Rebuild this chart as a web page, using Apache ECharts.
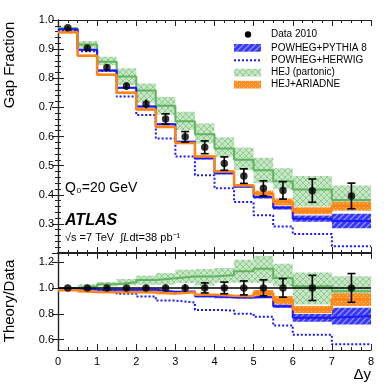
<!DOCTYPE html>
<html><head><meta charset="utf-8">
<script src="https://cdn.jsdelivr.net/npm/echarts@6/dist/echarts.min.js"></script>
<style>html,body{margin:0;padding:0;background:#fff}#c{width:390px;height:390px}</style>
</head><body><div id="c"></div>
<script>
// ---------- data ----------
const binEdges   = [0,0.5,1,1.5,2,2.5,3,3.5,4,4.5,5,5.5,6,7,8];
const binCenters = [0.25,0.75,1.25,1.75,2.25,2.75,3.25,3.75,4.25,4.75,5.25,5.75,6.5,7.5];
const xTicks = [0,1,2,3,4,5,6,7,8];
const yTicksTop = [0.3,0.4,0.5,0.6,0.7,0.8,0.9,1.0];
const yTicksRatio = [0.6,0.8,1.0,1.2];

// Gap fraction (upper panel)
const gapData    = [0.973,0.904,0.837,0.773,0.712,0.660,0.599,0.563,0.507,0.464,0.422,0.415,0.414,0.396];
const gapDataErr = [0.006,0.008,0.012,0.013,0.015,0.018,0.018,0.022,0.023,0.025,0.026,0.030,0.040,0.044];
const pythiaGap  = [0.968,0.898,0.827,0.767,0.703,0.642,0.582,0.525,0.474,0.428,0.392,0.355,0.318,0.310];
const pythiaErr  = [0.003,0.003,0.003,0.003,0.003,0.003,0.003,0.004,0.004,0.004,0.005,0.006,0.011,0.025];
const herwigGap  = [0.965,0.893,0.825,0.737,0.674,0.593,0.531,0.467,0.422,0.375,0.330,0.291,0.265,0.223];
const hejGap     = [0.972,0.916,0.857,0.806,0.758,0.706,0.652,0.608,0.559,0.520,0.484,0.446,0.418,0.382];
const hejLo      = [0.968,0.903,0.845,0.777,0.716,0.674,0.622,0.576,0.530,0.485,0.440,0.419,0.360,0.345];
const hejHi      = [0.976,0.928,0.874,0.834,0.782,0.736,0.685,0.645,0.597,0.562,0.527,0.491,0.464,0.432];
const ariadneGap = [0.958,0.877,0.812,0.750,0.693,0.633,0.578,0.531,0.480,0.432,0.404,0.375,0.345,0.361];
const ariadneErr = [0.004,0.004,0.004,0.004,0.004,0.004,0.004,0.004,0.004,0.005,0.010,0.012,0.012,0.015];

// Theory/Data (lower panel)
const ratioData     = [1,1,1,1,1,1,1,1,1,1,1,1,1,1];
const ratioDataErr  = [0.006,0.009,0.014,0.017,0.021,0.027,0.030,0.039,0.045,0.054,0.062,0.072,0.097,0.111];
const ratioPythia   = [0.995,0.988,0.985,0.985,0.985,0.970,0.972,0.935,0.928,0.925,0.930,0.859,0.769,0.782];
const ratioPythiaErr= [0.004,0.004,0.004,0.004,0.004,0.004,0.005,0.008,0.008,0.008,0.008,0.013,0.030,0.064];
const ratioHerwig   = [0.990,0.987,0.975,0.954,0.933,0.902,0.887,0.830,0.825,0.800,0.777,0.710,0.638,0.564];
const ratioHej      = [1.000,1.012,1.028,1.043,1.062,1.074,1.089,1.089,1.100,1.128,1.148,1.077,1.012,0.974];
const ratioHejLo    = [0.995,0.997,1.012,1.020,1.025,1.025,1.038,1.018,1.040,1.040,1.040,1.012,0.872,0.870];
const ratioHejHi    = [1.008,1.028,1.046,1.069,1.095,1.115,1.141,1.146,1.154,1.218,1.248,1.187,1.120,1.090];
const ratioAriadne  = [0.982,0.969,0.966,0.966,0.966,0.956,0.966,0.948,0.940,0.936,0.961,0.905,0.833,0.910];
const ratioAriadneErr=[0.006,0.006,0.006,0.006,0.006,0.006,0.006,0.006,0.006,0.008,0.023,0.032,0.028,0.049];

// ---------- helpers ----------
const FONT = 'Liberation Sans, Arial, sans-serif';
function pattern(size, bg, draw){
  const c = document.createElement('canvas'); c.width = c.height = size;
  const g = c.getContext('2d'); g.fillStyle = bg; g.fillRect(0,0,size,size); draw(g,size);
  return {image:c, repeat:'repeat'};
}
const blueHatch = pattern(6,'#3838f4',(g,s)=>{g.strokeStyle='#9c9cff';g.lineWidth=1.2;g.beginPath();
  g.moveTo(-1,s+1);g.lineTo(s+1,-1);g.moveTo(-1,1);g.lineTo(1,-1);g.moveTo(s-1,s+1);g.lineTo(s+1,s-1);g.stroke();});
const greenHatch = pattern(6,'#c6e6c6',(g,s)=>{g.strokeStyle='#92cc92';g.lineWidth=1;g.beginPath();
  g.moveTo(0,0);g.lineTo(s,s);g.moveTo(0,s);g.lineTo(s,0);g.stroke();});
const orangeDots = pattern(4,'#ff8c1e',(g,s)=>{g.fillStyle='#ffc98f';g.fillRect(1,1,1,1);g.fillRect(3,3,1,1);});

function steps(vals){ const out=[]; vals.forEach((v,i)=>{out.push([binEdges[i],v]);out.push([binEdges[i+1],v]);}); return out; }
function bandData(lo,hi){ return lo.map((l,i)=>[binEdges[i],binEdges[i+1],l,hi[i]]); }
function symBand(v,e){ return bandData(v.map((x,i)=>x-e[i]), v.map((x,i)=>x+e[i])); }
function bandRender(fill){
  return function(params, api){
    const p0 = api.coord([api.value(0), api.value(3)]);
    const p1 = api.coord([api.value(1), api.value(2)]);
    return {type:'rect', shape:{x:p0[0], y:p0[1], width:p1[0]-p0[0], height:p1[1]-p0[1]}, style:{fill:fill}};
  };
}
function errRender(params, api){
  const x=api.value(0), v=api.value(1), e=api.value(2);
  const t=api.coord([x,v+e]), b=api.coord([x,v-e]);
  const st={stroke:'#000', lineWidth:1.6};
  const ch=[{type:'line', shape:{x1:t[0],y1:t[1],x2:b[0],y2:b[1]}, style:st}];
  if (b[1]-t[1] > 9){
    ch.push({type:'line', shape:{x1:t[0]-4,y1:t[1],x2:t[0]+4,y2:t[1]}, style:st});
    ch.push({type:'line', shape:{x1:b[0]-4,y1:b[1],x2:b[0]+4,y2:b[1]}, style:st});
  }
  return {type:'group', children:ch};
}

const axisLineStyle = {lineStyle:{color:'#222', width:1.2}};
function xAx(gi, pos, show, lw){
  return {type:'value', gridIndex:gi, position:pos, min:0, max:8, interval:1,
    axisLine:{show:true, onZero:false, lineStyle:{color:'#222', width:lw||1.2}},
    axisTick:{show:true, inside:true, length:6, lineStyle:{color:'#222'}},
    minorTick:{show:true, splitNumber:4, length:3, lineStyle:{color:'#222'}},
    splitLine:{show:false}, minorSplitLine:{show:false},
    axisLabel:{show:show, color:'#000', fontSize:11, fontFamily:FONT, margin:6,
      formatter:(v)=> xTicks.indexOf(v)>=0 ? String(v) : ''}};
}

const option = {
  animation:false,
  grid:[{left:58, top:20, width:313, height:233}, {left:58, top:253, width:313, height:97}],
  xAxis:[ xAx(0,'bottom',false,1.2), xAx(0,'top',false,1.2), xAx(1,'bottom',true,1.2), xAx(1,'top',false,2) ],
  yAxis:[
    {type:'value', gridIndex:0, position:'left', min:0.2, max:1.0, interval:0.1,
      axisLine:{show:true, ...axisLineStyle}, axisTick:{inside:true, length:6, lineStyle:{color:'#222'}},
      minorTick:{show:true, splitNumber:5, length:3, lineStyle:{color:'#222'}}, splitLine:{show:false},
      axisLabel:{color:'#000', fontSize:11, fontFamily:FONT, margin:4,
        formatter:(v)=>{const r=Math.round(v*10)/10; return yTicksTop.indexOf(r)>=0 ? r.toFixed(1) : '';}}},
    {type:'value', gridIndex:0, position:'right', min:0.2, max:1.0, interval:0.1,
      axisLine:{show:true, ...axisLineStyle}, axisTick:{inside:true, length:6, lineStyle:{color:'#222'}},
      minorTick:{show:true, splitNumber:5, length:3, lineStyle:{color:'#222'}}, splitLine:{show:false}, axisLabel:{show:false}},
    {type:'value', gridIndex:1, position:'left', min:0.52, max:1.27,
      axisLine:{show:true, ...axisLineStyle}, splitLine:{show:false},
      axisTick:{inside:true, length:6, customValues:yTicksRatio, lineStyle:{color:'#222'}},
      axisLabel:{color:'#000', fontSize:11, fontFamily:FONT, margin:4, customValues:yTicksRatio, formatter:(v)=>v.toFixed(1)}},
    {type:'value', gridIndex:1, position:'right', min:0.52, max:1.27,
      axisLine:{show:true, ...axisLineStyle}, splitLine:{show:false},
      axisTick:{inside:true, length:6, customValues:yTicksRatio, lineStyle:{color:'#222'}},
      axisLabel:{show:false}}
  ],
  series:[
    // upper panel
    {type:'custom', xAxisIndex:0, yAxisIndex:0, z:1, data:bandData(hejLo,hejHi), renderItem:bandRender(greenHatch), encode:{x:[0,1],y:[2,3]}, clip:true},
    {type:'custom', xAxisIndex:0, yAxisIndex:0, z:2, data:symBand(pythiaGap,pythiaErr), renderItem:bandRender(blueHatch), encode:{x:[0,1],y:[2,3]}, clip:true},
    {type:'custom', xAxisIndex:0, yAxisIndex:0, z:3, data:symBand(ariadneGap,ariadneErr), renderItem:bandRender(orangeDots), encode:{x:[0,1],y:[2,3]}, clip:true},
    {type:'line', xAxisIndex:0, yAxisIndex:0, z:4, data:steps(hejGap), showSymbol:false, lineStyle:{color:'#5fb55f', width:2}},
    {type:'line', xAxisIndex:0, yAxisIndex:0, z:4, data:steps(herwigGap), showSymbol:false, lineStyle:{color:'#1a1aff', width:2, type:[2,2]}},
    {type:'line', xAxisIndex:0, yAxisIndex:0, z:5, data:steps(pythiaGap), showSymbol:false, lineStyle:{color:'#1a1aff', width:2}},
    {type:'line', xAxisIndex:0, yAxisIndex:0, z:6, data:steps(ariadneGap), showSymbol:false, lineStyle:{color:'#ff8418', width:2.5}},
    {type:'custom', xAxisIndex:0, yAxisIndex:0, z:7, data:binCenters.map((x,i)=>[x,gapData[i],gapDataErr[i]]), renderItem:errRender, encode:{x:0,y:1}},
    {type:'scatter', xAxisIndex:0, yAxisIndex:0, z:8, data:binCenters.map((x,i)=>[x,gapData[i]]), symbol:'circle', symbolSize:7.5, itemStyle:{color:'#000'}},
    // lower panel
    {type:'custom', xAxisIndex:2, yAxisIndex:2, z:1, data:bandData(ratioHejLo,ratioHejHi), renderItem:bandRender(greenHatch), encode:{x:[0,1],y:[2,3]}, clip:true},
    {type:'custom', xAxisIndex:2, yAxisIndex:2, z:2, data:symBand(ratioPythia,ratioPythiaErr), renderItem:bandRender(blueHatch), encode:{x:[0,1],y:[2,3]}, clip:true},
    {type:'custom', xAxisIndex:2, yAxisIndex:2, z:3, data:symBand(ratioAriadne,ratioAriadneErr), renderItem:bandRender(orangeDots), encode:{x:[0,1],y:[2,3]}, clip:true},
    {type:'line', xAxisIndex:2, yAxisIndex:2, z:4, data:steps(ratioHej), showSymbol:false, lineStyle:{color:'#5fb55f', width:2}},
    {type:'line', xAxisIndex:2, yAxisIndex:2, z:4, data:steps(ratioHerwig), showSymbol:false, lineStyle:{color:'#1a1aff', width:2, type:[2,2]}},
    {type:'line', xAxisIndex:2, yAxisIndex:2, z:5, data:steps(ratioPythia), showSymbol:false, lineStyle:{color:'#1a1aff', width:2}},
    {type:'line', xAxisIndex:2, yAxisIndex:2, z:6, data:steps(ratioAriadne), showSymbol:false, lineStyle:{color:'#ff8418', width:2.5}},
    {type:'line', xAxisIndex:2, yAxisIndex:2, z:6, data:[[0,1],[8,1]], showSymbol:false, lineStyle:{color:'#000', width:1.5}},
    {type:'custom', xAxisIndex:2, yAxisIndex:2, z:7, data:binCenters.map((x,i)=>[x,ratioData[i],ratioDataErr[i]]), renderItem:errRender, encode:{x:0,y:1}},
    {type:'scatter', xAxisIndex:2, yAxisIndex:2, z:8, data:binCenters.map((x,i)=>[x,ratioData[i]]), symbol:'circle', symbolSize:7.5, itemStyle:{color:'#000'}}
  ],
  graphic:[
    {type:'text', x:10, y:65, rotation:Math.PI/2, style:{text:'Gap Fraction', font:'15px '+FONT, fill:'#000', textAlign:'center', textVerticalAlign:'middle'}},
    {type:'text', x:10, y:301, rotation:Math.PI/2, style:{text:'Theory/Data', font:'15px '+FONT, fill:'#000', textAlign:'center', textVerticalAlign:'middle'}},
    {type:'text', x:371, y:375, style:{text:'Δy', font:'15px '+FONT, fill:'#000', textAlign:'right', textVerticalAlign:'middle'}},
    {type:'text', x:65, y:188, style:{text:'Q₀=20 GeV', font:'14px '+FONT, fill:'#000', textAlign:'left', textVerticalAlign:'middle'}},
    {type:'text', x:65, y:221, style:{text:'ATLAS', font:'italic bold 16px '+FONT, fill:'#000', textAlign:'left', textVerticalAlign:'middle'}},
    {type:'text', x:65, y:238, style:{text:'{a|√s =7 TeV  ∫}{b|L}{a|dt=38 pb⁻¹}', fill:'#000', textAlign:'left', textVerticalAlign:'middle',
      rich:{a:{fontFamily:FONT, fontSize:11, fill:'#000'}, b:{fontFamily:FONT, fontSize:11, fontStyle:'italic', fill:'#000'}}}},
    // legend
    {type:'circle', shape:{cx:248, cy:34.5, r:3.2}, style:{fill:'#000'}},
    {type:'rect', shape:{x:234, y:44, width:27, height:7.7}, style:{fill:blueHatch}},
    {type:'line', shape:{x1:234, y1:60.3, x2:261, y2:60.3}, style:{stroke:'#1a1aff', lineWidth:2, lineDash:[2,2]}},
    {type:'rect', shape:{x:234, y:68.8, width:27, height:7.7}, style:{fill:greenHatch}},
    {type:'rect', shape:{x:234, y:80.8, width:27, height:7.7}, style:{fill:orangeDots}},
    {type:'text', x:271, y:34.5, style:{text:'Data 2010', font:'10px '+FONT, fill:'#000', textVerticalAlign:'middle'}},
    {type:'text', x:271, y:47.8, style:{text:'POWHEG+PYTHIA 8', font:'10px '+FONT, fill:'#000', textVerticalAlign:'middle'}},
    {type:'text', x:271, y:60.3, style:{text:'POWHEG+HERWIG', font:'10px '+FONT, fill:'#000', textVerticalAlign:'middle'}},
    {type:'text', x:271, y:72.7, style:{text:'HEJ (partonic)', font:'10px '+FONT, fill:'#000', textVerticalAlign:'middle'}},
    {type:'text', x:271, y:84.7, style:{text:'HEJ+ARIADNE', font:'10px '+FONT, fill:'#000', textVerticalAlign:'middle'}}
  ]
};
const chart = echarts.init(document.getElementById('c'), null, {renderer:'canvas'});
chart.setOption(option);
</script>
</body></html>
